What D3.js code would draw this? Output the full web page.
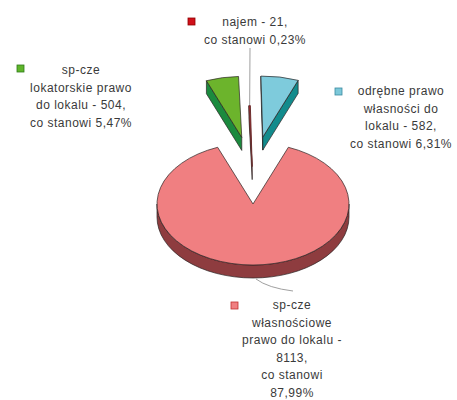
<!DOCTYPE html>
<html lang="pl">
<head>
<meta charset="utf-8">
<script src="https://cdn.jsdelivr.net/npm/d3@7"></script>
<style>
  html, body { margin: 0; padding: 0; background: #fff; }
  svg { display: block; }
  text { font-family: "Liberation Sans", Arial, sans-serif; font-size: 12px; fill: #3a3a3a; letter-spacing: 0.5px; }
</style>
</head>
<body>
<svg id="chart" width="457" height="400"></svg>
<script>
// Struktura lokali według tytułu prawnego
const categories = ["sp-cze własnościowe", "sp-cze lokatorskie", "najem", "odrębne prawo własności"];
const counts = [8113, 504, 21, 582];
const shares = ["87,99%", "5,47%", "0,23%", "6,31%"];
// Label wording (name part; count and share are appended)
const nameLines = [
  ["sp-cze", "własnościowe", "prawo do lokalu -"],
  ["sp-cze", "lokatorskie prawo", "do lokalu -"],
  ["najem -"],
  ["odrębne prawo", "własności do", "lokalu -"]
];

// Styles, in category order
const topColors  = ["#f07f81", "#6cb42c", "#d3141c", "#7ecbdc"];
const sideColors = ["#8e3c3f", "#1b8a3e", "#7a1a1a", "#128b8c"];
const keyColors  = ["#f07f81", "#5fb52a", "#d0101a", "#7cc8d9"];
const keyStroke  = ["#c03030", "#2f7a1a", "#900000", "#3a8aa0"];
const explode    = [0, 1, 0.55, 1];

// Layout
const cx = 253, cy = 204, rx = 96, ry = 61, depth = 13;
const explodeX = 55, explodeY = 68;
const lineGap = 17.6;
const labelLayout = [
  { x: 292, y: 309, key: [231, 302], stacked: true },
  { x: 81,  y: 74,  key: [17, 65] },
  { x: 255, y: 26,  key: [188, 18] },
  { x: 401, y: 95,  key: [335, 88] }
];

const svg = d3.select("#chart");
const total = d3.sum(counts);
const gapHalf = Math.PI * (1 - counts[0] / total);

const arcs = d3.pie().sort(null).value(d => d)
  .startAngle(gapHalf).endAngle(gapHalf + 2 * Math.PI)(counts);

// Projected point on the tilted pie
const pt = (a, ox, oy, dz = 0) => [ox + rx * Math.sin(a), oy - ry * Math.cos(a) + dz];

arcs.forEach((d, i) => {
  const mid = (d.startAngle + d.endAngle) / 2;
  d.ox = cx + Math.sin(mid) * explodeX * explode[i];
  d.oy = cy - Math.cos(mid) * explodeY * explode[i];
});

function ellipseArc(p, large, sweep) {
  return `A${rx},${ry} 0 ${large} ${sweep} ${p[0]},${p[1]}`;
}

function topPath(d) {
  const a0 = d.startAngle, a1 = d.endAngle;
  const p0 = pt(a0, d.ox, d.oy), p1 = pt(a1, d.ox, d.oy);
  const large = (a1 - a0) > Math.PI ? 1 : 0;
  return `M${d.ox},${d.oy}L${p0[0]},${p0[1]}${ellipseArc(p1, large, 1)}Z`;
}

function sidePaths(d) {
  const paths = [];
  const a0 = d.startAngle, a1 = d.endAngle;
  // front rim: the part of the arc facing the viewer (90°..270°)
  const s = Math.max(a0, Math.PI / 2), e = Math.min(a1, 3 * Math.PI / 2);
  if (e > s) {
    const t0 = pt(s, d.ox, d.oy), t1 = pt(e, d.ox, d.oy);
    const b0 = pt(s, d.ox, d.oy, depth), b1 = pt(e, d.ox, d.oy, depth);
    const large = (e - s) > Math.PI ? 1 : 0;
    paths.push(`M${t0[0]},${t0[1]}${ellipseArc(t1, large, 1)}L${b1[0]},${b1[1]}${ellipseArc(b0, large, 0)}Z`);
  }
  // radial cut faces that face downward
  const radial = a => {
    const p = pt(a, d.ox, d.oy), q = pt(a, d.ox, d.oy, depth);
    return `M${d.ox},${d.oy}L${p[0]},${p[1]}L${q[0]},${q[1]}L${d.ox},${d.oy + depth}Z`;
  };
  if (Math.sin(a0) < 0) paths.push(radial(a0));
  if (Math.sin(a1) > 0) paths.push(radial(a1));
  return paths;
}

// Leader lines (behind the slices)
const leaders = svg.append("g").attr("fill", "none").attr("stroke", "#a0a0a0").attr("stroke-width", 1);

const pie = svg.append("g");
arcs.forEach((d, i) => {
  sidePaths(d).forEach(p => {
    pie.append("path").attr("d", p)
      .attr("fill", sideColors[i])
      .attr("stroke", "#2a2222").attr("stroke-width", 0.7)
      .attr("stroke-linejoin", "round");
  });
});
arcs.forEach((d, i) => {
  pie.append("path").attr("d", topPath(d))
    .attr("fill", topColors[i])
    .attr("stroke", i === 2 ? "#6a3030" : "#2a2222")
    .attr("stroke-width", i === 2 ? 1 : 0.7)
    .attr("stroke-linejoin", "round");
});

{
  const d = arcs[2];
  const mid = (d.startAngle + d.endAngle) / 2;
  const p = pt(mid, d.ox, d.oy);
  leaders.append("path").attr("d", `M250,48L${p[0]},${p[1]}`);
}
{
  const d = arcs[0];
  const p = pt(Math.PI, d.ox, d.oy, depth);
  leaders.append("path").attr("d", `M${p[0] + 3},${p[1] + 1}Q${p[0] + 15},${p[1] + 10} ${p[0] + 40},${p[1] + 13}`);
}

// Labels with colour keys
const labels = svg.append("g");
labelLayout.forEach((L, i) => {
  const name = nameLines[i];
  let lines;
  if (L.stacked) {
    lines = [...name, `${counts[i]},`, "co stanowi", shares[i]];
  } else {
    lines = [...name.slice(0, -1), `${name[name.length - 1]} ${counts[i]},`, `co stanowi ${shares[i]}`];
  }
  labels.append("rect")
    .attr("x", L.key[0]).attr("y", L.key[1]).attr("width", 7).attr("height", 7)
    .attr("fill", keyColors[i]).attr("stroke", keyStroke[i]).attr("stroke-width", 0.8);
  const t = labels.append("text").attr("text-anchor", "middle");
  lines.forEach((s, k) => {
    t.append("tspan").attr("x", L.x).attr("y", L.y + k * lineGap).text(s);
  });
});
</script>
</body>
</html>
